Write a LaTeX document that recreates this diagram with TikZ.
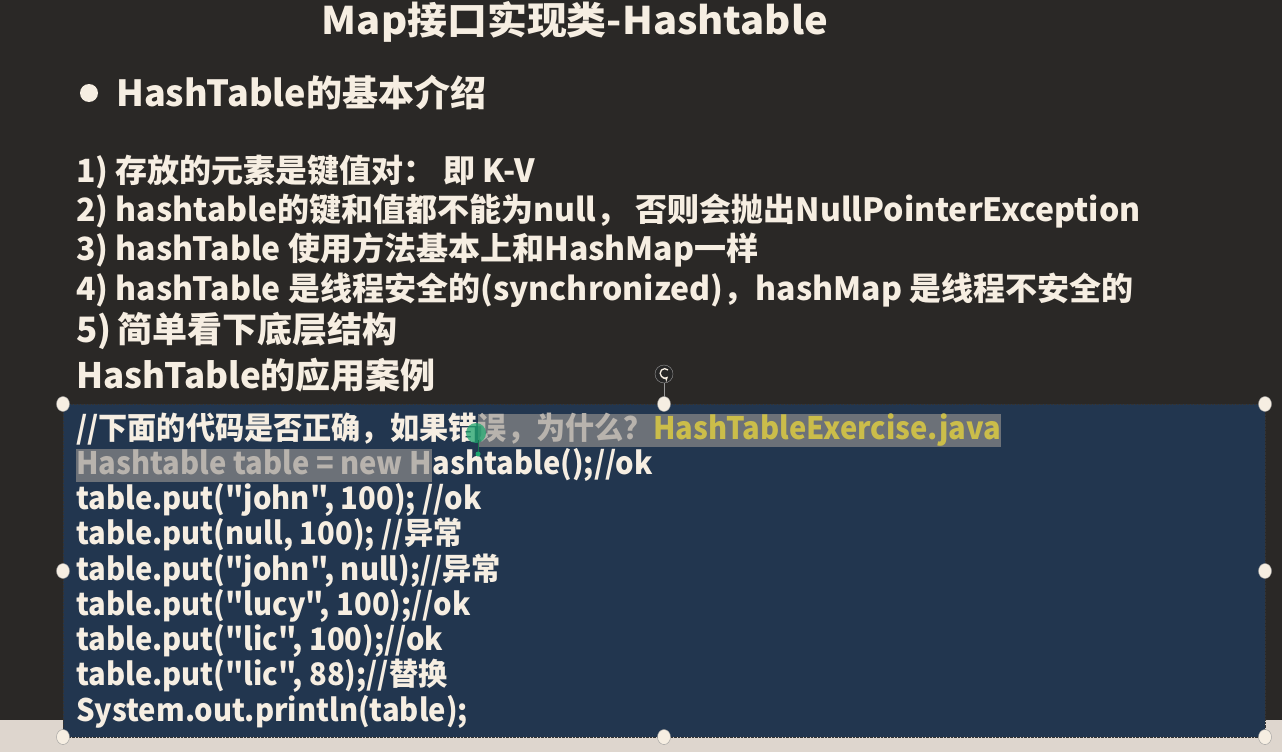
\documentclass[tikz,border=0pt]{standalone}
\usepackage{fontspec}
\usetikzlibrary{arrows}
\usetikzlibrary{backgrounds,positioning}
\newfontfamily\cjk{Noto Sans CJK SC}[Ligatures=ResetAll]
\newfontfamily\cjkwide{Noto Sans CJK SC}[Ligatures=ResetAll,FakeStretch=1.05]
\newfontfamily\cjknarrow{Noto Sans CJK SC}[Ligatures=ResetAll,FakeStretch=0.94]
\newcommand{\titlefont}{\cjkwide\bfseries\fontsize{38}{44}\selectfont}
\newcommand{\headfont}{\cjk\bfseries\fontsize{36}{42}\selectfont}
\newcommand{\bodyfont}{\cjk\bfseries\fontsize{32}{38}\selectfont}
\newcommand{\casefont}{\cjk\bfseries\fontsize{35}{40}\selectfont}
\newcommand{\codefont}{\cjknarrow\bfseries\fontsize{31}{36}\selectfont}
\definecolor{board}{HTML}{2A2826}
\definecolor{beige}{HTML}{DED6CE}
\definecolor{chalk}{HTML}{F6EEE2}
\definecolor{codebg}{HTML}{22364F}
\definecolor{selbg}{HTML}{6C7178}
\definecolor{seltext}{HTML}{B8B3AD}
\definecolor{javagold}{HTML}{CBBD4A}
\definecolor{cursor}{HTML}{1FA56E}

\begin{document}
\begin{tikzpicture}[x=1pt,y=-1pt]
      \tikzstyle{every node}=[inner sep=0pt, text=chalk]
      \tikzstyle{line}=[anchor=west, font=\bodyfont]
      \tikzstyle{code}=[anchor=west, font=\codefont, text height=26pt, text depth=7pt]
      \tikzstyle{sel}=[code, fill=selbg, text=seltext]
      \tikzstyle{handle}=[fill=chalk, draw=black!40, thin]

      % slide background
      \useasboundingbox (0,0) rectangle (1282,752);
      \fill[board] (0,0) rectangle (1282,720);
      \fill[beige] (0,720) rectangle (1282,752);

      % title and intro
      \node[font=\titlefont] (title) at (575,22) {Map接口实现类-Hashtable};
      \fill[chalk] (89,93) circle (9);
      \node[anchor=west, font=\headfont] (intro) at (116,93) {HashTable的基本介绍};
      \node[line] (p1) at (76,172) {1) 存放的元素是键值对： 即 K-V};
      \node[line] (p2) at (76,211) {2) hashtable的键和值都不能为null， 否则会抛出NullPointerException};
      \node[line] (p3) at (76,250) {3) hashTable 使用方法基本上和HashMap一样};
      \node[line] (p4) at (76,290) {4) hashTable 是线程安全的(synchronized)，hashMap 是线程不安全的};
      \node[anchor=west, font=\casefont] (p5) at (76,331) {5)\,简单看下底层结构};
      \node[anchor=west, font=\casefont] (usecase) at (76,375) {HashTable的应用案例};

      % code box
      \filldraw[fill=codebg, draw=black!80, densely dotted] (63,404) rectangle (1265,737);
      \node[code] (c1a) at (76,430) {//下面的代码是否正确，如果错};
      \node[sel, right=0pt of c1a] (c1b) {误，为什么？};
      \node[sel, right=0pt of c1b, text=javagold] (c1c) {HashTableExercise.java\hspace{19pt}};
      \node[sel] (c2a) at (76,465) {Hashtable table = new H};
      \node[code, right=0pt of c2a] (c2b) {ashtable();//ok};
      \foreach \y/\txt [count=\i from 3] in {500/{table.put("john", 100); //ok},
          535/{table.put(null, 100); //异常},
          571/{table.put("john", null);//异常},
          606/{table.put("lucy", 100);//ok},
          641/{table.put("lic", 100);//ok},
          676/{table.put("lic", 88);//替换},
          712/{System.out.println(table);}}
        \node[code] (c\i) at (76,\y) {\txt};

      % cursor
      \fill[cursor, fill opacity=0.75] (476,433) circle (10);
      \draw[cursor!70!black, line width=1pt] (478,440) -- (478,456);
      \fill[cursor] (478,454) circle (2.5);

      % selection handles
      \draw[black!40] (664,382) -- (664,404);
      \foreach \p in {(63,404),(664,404),(1265,404),(63,571),(1265,571),(63,737),(664,737),(1265,737)}
        \filldraw[handle] \p ellipse (6.5 and 7.5);
      \filldraw[fill=black!85, draw=black!40] (664,374) circle (9);
      \draw[chalk, line width=1.3pt, ->, >=stealth] (668,370) arc (-45:-315:4.6);
\end{tikzpicture}
\end{document}
